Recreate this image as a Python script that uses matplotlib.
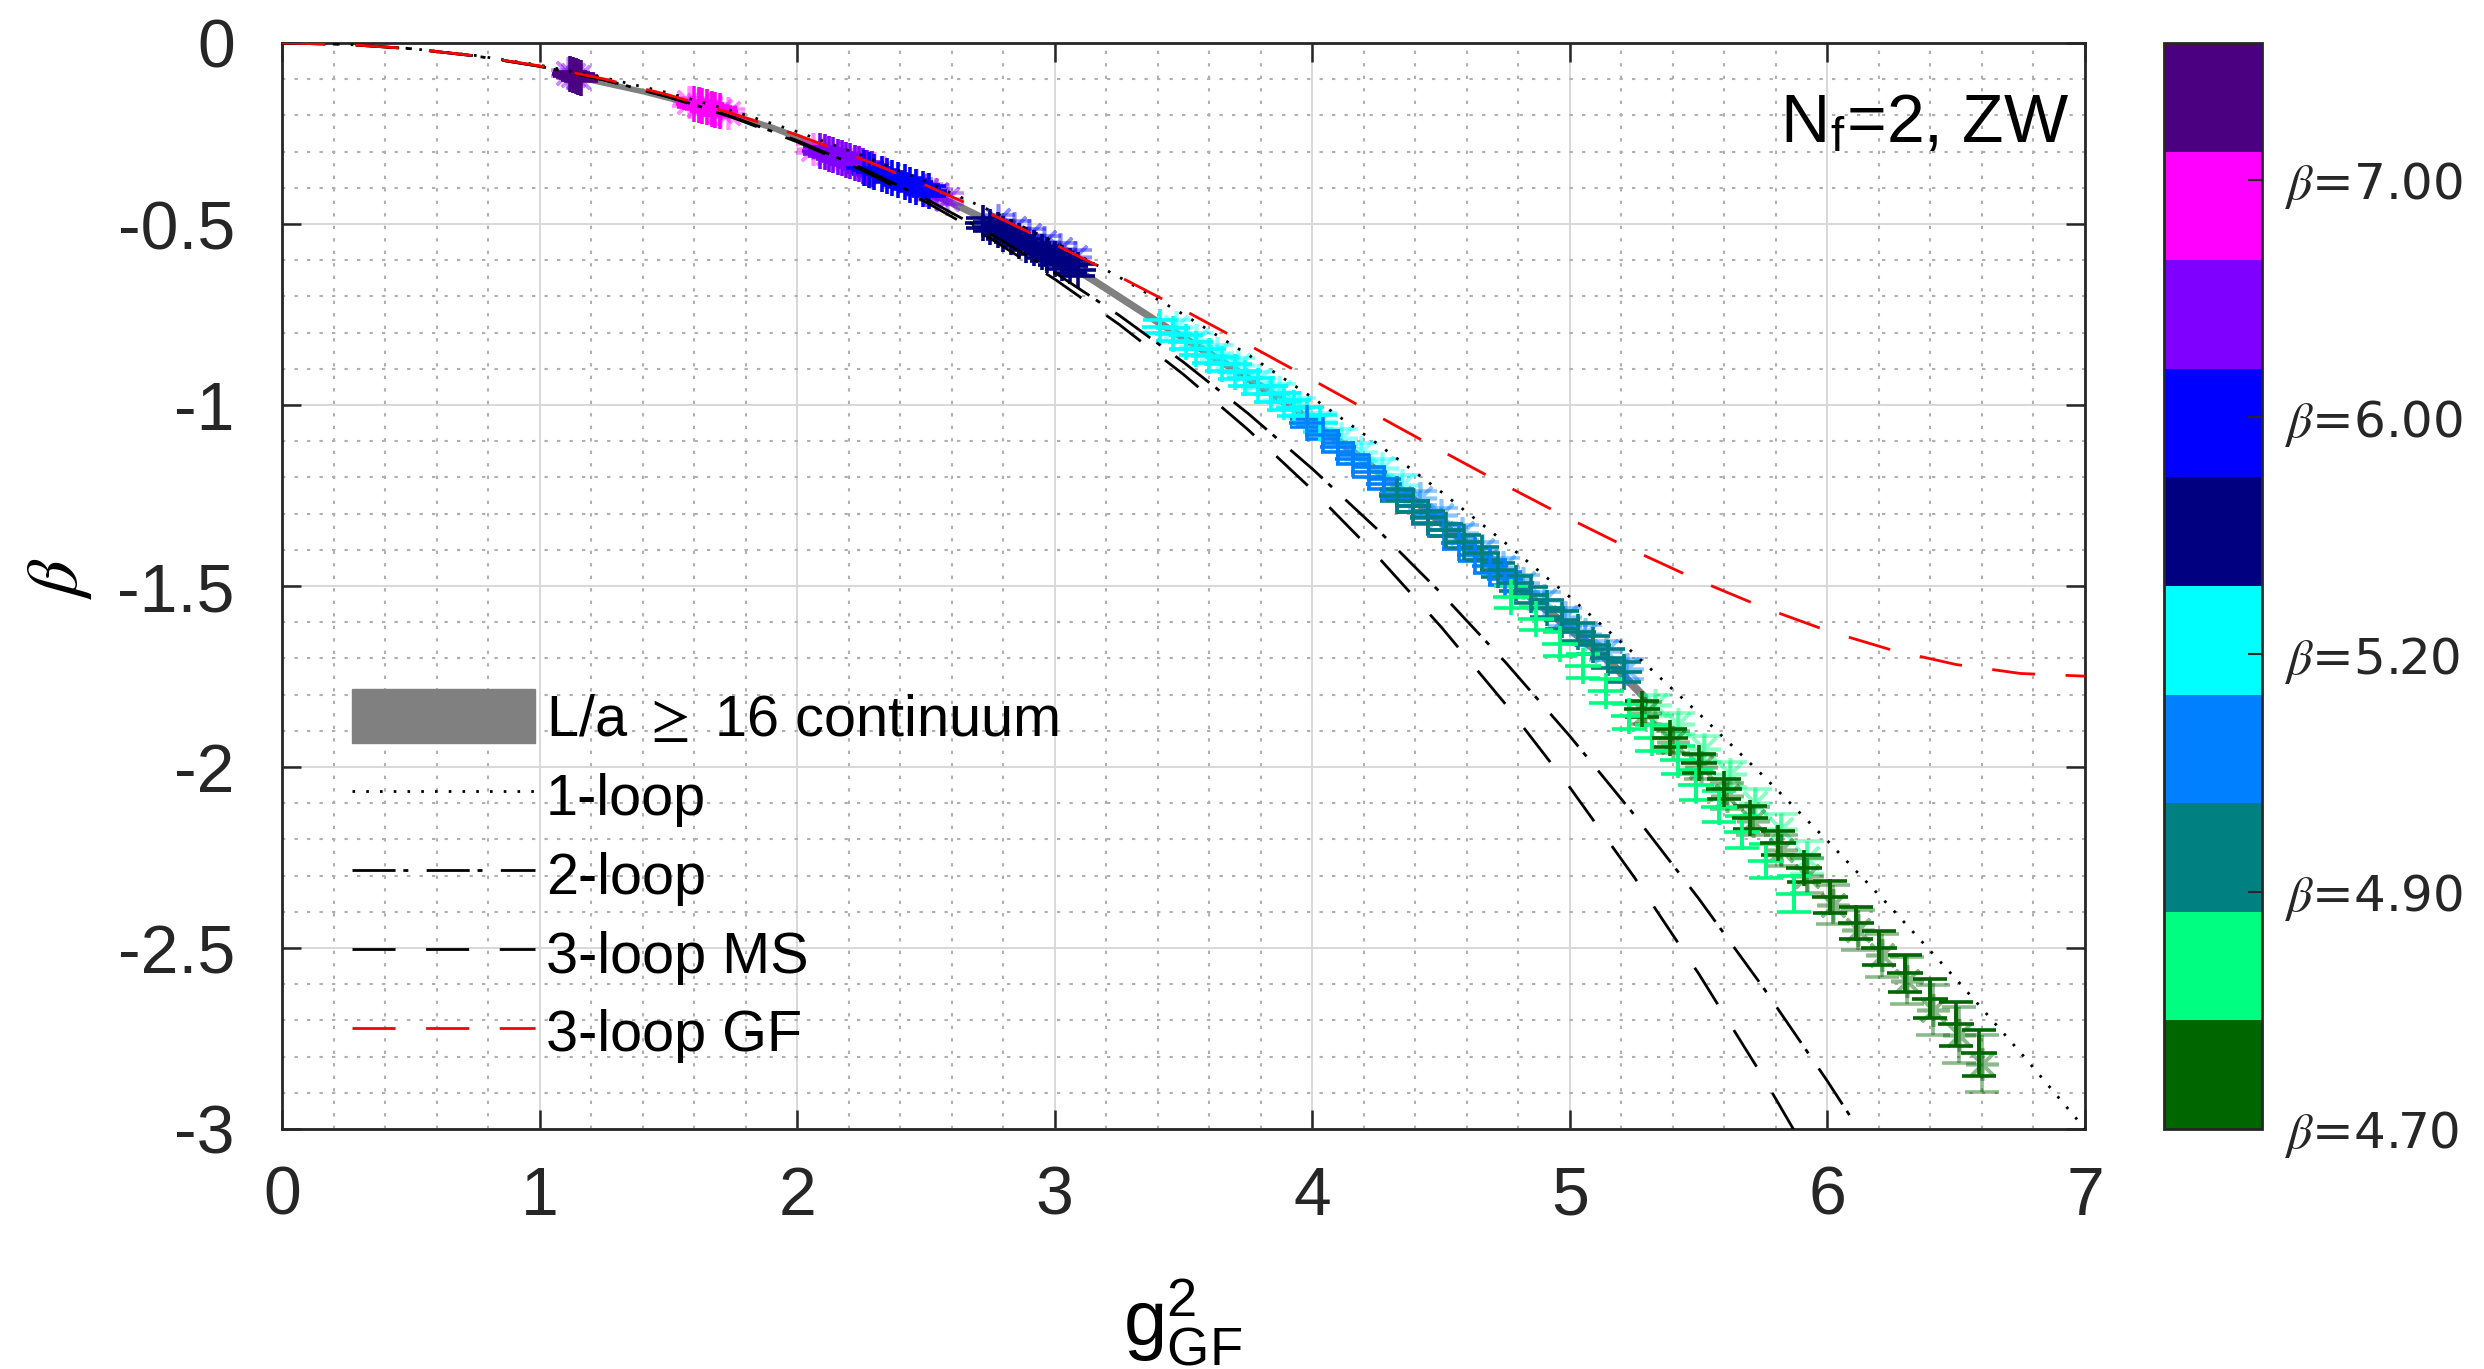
import matplotlib
matplotlib.use('Agg')
import matplotlib.pyplot as plt
from matplotlib.colors import ListedColormap, Normalize
from matplotlib.patches import Patch
from matplotlib.lines import Line2D
from matplotlib.ticker import MultipleLocator
import matplotlib.cm as cm

# ------------------------------------------------------------------ data
curve_x = [0, 0.25, 0.5, 0.75, 1, 1.25, 1.5, 1.75, 2, 2.25, 2.5, 2.75, 3, 3.25,
           3.5, 3.75, 4, 4.25, 4.5, 4.75, 5, 5.25, 5.5, 5.75, 6, 6.25, 6.5, 6.75, 7]
one_loop = [0, -0.0038, -0.0153, -0.0344, -0.0612, -0.0957, -0.1377, -0.1875, -0.2449,
            -0.3099, -0.3826, -0.4629, -0.5509, -0.6466, -0.7499, -0.8608, -0.9794,
            -1.1057, -1.2396, -1.3812, -1.5304, -1.6872, -1.8518, -2.0239, -2.2037,
            -2.3912, -2.5863, -2.7891, -2.9995]
two_loop = [0, -0.0039, -0.0157, -0.0357, -0.0643, -0.1017, -0.1481, -0.2040, -0.2695,
            -0.3449, -0.4306, -0.5269, -0.6340, -0.7521, -0.8817, -1.0230, -1.1762,
            -1.3417, -1.5198, -1.7107, -1.9147, -2.1321, -2.3633, -2.6084, -2.8678,
            -3.1418]
three_loop_ms = [0, -0.0039, -0.0157, -0.0358, -0.0645, -0.1022, -0.1493, -0.2061,
                 -0.2731, -0.3507, -0.4395, -0.5399, -0.6523, -0.7774, -0.9157, -1.0678,
                 -1.2343, -1.4157, -1.6128, -1.8262, -2.0565, -2.3045, -2.5708, -2.8564,
                 -3.1618]
three_loop_gf = [0, -0.0039, -0.0156, -0.0354, -0.0633, -0.0993, -0.1433, -0.1950,
                 -0.2541, -0.3203, -0.3931, -0.4720, -0.5562, -0.6450, -0.7376, -0.8331,
                 -0.9304, -1.0285, -1.1261, -1.2220, -1.3147, -1.4028, -1.4848, -1.5590,
                 -1.6237, -1.6770, -1.7170, -1.7417, -1.7491]

band_x = [1.15, 1.4, 1.65, 1.9, 2.15, 2.4, 2.65, 2.9, 3.15, 3.4, 3.65, 3.9, 4.15, 4.4,
          4.65, 4.9, 5.15, 5.3]
band_y = [-0.094, -0.133, -0.178, -0.232, -0.300, -0.375, -0.458, -0.545, -0.655,
          -0.770, -0.880, -0.995, -1.125, -1.265, -1.415, -1.560, -1.705, -1.815]
band_hw = [0.008, 0.008, 0.009, 0.009, 0.010, 0.010, 0.011, 0.011, 0.012, 0.012,
           0.013, 0.013, 0.014, 0.014, 0.015, 0.015, 0.016, 0.016]

# '+' series (opaque) and '*' series (light) per bare-beta colour
indigo_x = [1.12, 1.13, 1.14, 1.15, 1.16]
indigo_y = [-0.085, -0.088, -0.091, -0.094, -0.097]
indigo_err = [0.006, 0.006, 0.006, 0.007, 0.007]
indigo_star_x = [1.11, 1.13, 1.15]
indigo_star_y = [-0.083, -0.088, -0.094]
indigo_star_err = [0.008, 0.008, 0.008]

magenta_x = [1.60, 1.62, 1.63, 1.65, 1.67, 1.68, 1.70]
magenta_y = [-0.168, -0.171, -0.174, -0.178, -0.182, -0.185, -0.189]
magenta_err = [0.008, 0.008, 0.008, 0.009, 0.009, 0.009, 0.010]
magenta_star_x = [1.58, 1.62, 1.66, 1.70, 1.73]
magenta_star_y = [-0.163, -0.170, -0.179, -0.187, -0.193]
magenta_star_err = [0.010, 0.010, 0.011, 0.011, 0.012]

violet_x = [2.09, 2.107, 2.123, 2.14, 2.157, 2.173, 2.19, 2.207, 2.223, 2.24, 2.257,
            2.273, 2.29]
violet_y = [-0.298, -0.302, -0.306, -0.310, -0.315, -0.319, -0.323, -0.327, -0.331,
            -0.335, -0.340, -0.344, -0.348]
violet_err = [0.010, 0.010, 0.010, 0.010, 0.011, 0.011, 0.011, 0.011, 0.012, 0.012,
              0.012, 0.012, 0.012]
violet_star_x = [2.06, 2.12, 2.18, 2.24, 2.30]
violet_star_y = [-0.292, -0.305, -0.318, -0.332, -0.346]
violet_star_err = [0.012, 0.012, 0.013, 0.013, 0.014]

blue_x = [2.26, 2.28, 2.30, 2.33, 2.35, 2.37, 2.39, 2.42, 2.44, 2.46, 2.49, 2.51]
blue_y = [-0.345, -0.350, -0.356, -0.362, -0.367, -0.373, -0.379, -0.385, -0.391,
          -0.397, -0.404, -0.410]
blue_err = [0.011, 0.011, 0.011, 0.012, 0.012, 0.012, 0.012, 0.013, 0.013, 0.013,
            0.013, 0.014]
blue_star_x = [2.46, 2.50, 2.54, 2.58]
blue_star_y = [-0.392, -0.405, -0.418, -0.430]
blue_star_err = [0.015, 0.015, 0.016, 0.016]

navy_x = [2.72, 2.75, 2.78, 2.80, 2.83, 2.86, 2.89, 2.92, 2.95, 2.97, 3.00, 3.03,
          3.06, 3.09]
navy_y = [-0.497, -0.507, -0.517, -0.527, -0.537, -0.547, -0.557, -0.567, -0.577,
          -0.587, -0.597, -0.607, -0.617, -0.627]
navy_err = [0.013, 0.013, 0.014, 0.014, 0.014, 0.015, 0.015, 0.015, 0.016, 0.016,
            0.016, 0.017, 0.017, 0.017]
navy_star_x = [2.78, 2.84, 2.90, 2.96, 3.02, 3.08]
navy_star_y = [-0.490, -0.510, -0.530, -0.550, -0.570, -0.590]
navy_star_err = [0.016, 0.017, 0.017, 0.018, 0.018, 0.019]

cyan_x = [3.41, 3.46, 3.51, 3.55, 3.60, 3.65, 3.70, 3.74, 3.79, 3.84, 3.89, 3.93,
          3.98, 4.03]
cyan_y = [-0.784, -0.805, -0.826, -0.844, -0.865, -0.887, -0.908, -0.926, -0.948,
          -0.969, -0.991, -1.008, -1.030, -1.051]
cyan_err = [0.018, 0.018, 0.019, 0.019, 0.020, 0.020, 0.021, 0.021, 0.022, 0.022,
            0.023, 0.023, 0.024, 0.024]
cyan_star_x = [3.47, 3.55, 3.63, 3.71, 3.79, 3.87, 3.95, 4.03, 4.11, 4.19, 4.27, 4.35]
cyan_star_y = [-0.785, -0.820, -0.855, -0.890, -0.930, -0.965, -1.005, -1.045, -1.090,
               -1.130, -1.175, -1.220]
cyan_star_err = [0.020, 0.020, 0.021, 0.021, 0.022, 0.022, 0.023, 0.024, 0.024,
                 0.025, 0.026, 0.026]

azure_x = [3.98, 4.04, 4.10, 4.16, 4.22, 4.28, 4.33, 4.39, 4.45, 4.51, 4.57, 4.63,
           4.69, 4.75]
azure_y = [-1.050, -1.083, -1.117, -1.150, -1.185, -1.218, -1.246, -1.280, -1.313,
           -1.346, -1.380, -1.413, -1.446, -1.480]
azure_err = [0.012, 0.012, 0.013, 0.013, 0.014, 0.014, 0.015, 0.015, 0.016, 0.016,
             0.017, 0.017, 0.018, 0.018]
azure_star_x = [4.42, 4.50, 4.58, 4.66, 4.74, 4.82, 4.90, 4.98, 5.06, 5.14, 5.22]
azure_star_y = [-1.257, -1.305, -1.353, -1.400, -1.447, -1.493, -1.540, -1.586,
                -1.633, -1.679, -1.730]
azure_star_err = [0.020, 0.021, 0.021, 0.022, 0.023, 0.023, 0.024, 0.025, 0.026,
                  0.026, 0.027]

teal_x = [4.33, 4.39, 4.45, 4.52, 4.59, 4.66, 4.72, 4.79, 4.85, 4.91, 4.97, 5.03,
          5.09, 5.15, 5.21]
teal_y = [-1.250, -1.280, -1.310, -1.345, -1.378, -1.410, -1.456, -1.493, -1.525,
          -1.562, -1.594, -1.626, -1.663, -1.700, -1.737]
teal_err = [0.015, 0.016, 0.016, 0.017, 0.018, 0.019, 0.020, 0.021, 0.022, 0.023,
            0.024, 0.025, 0.026, 0.027, 0.028]

spgreen_x = [4.77, 4.87, 4.96, 5.05, 5.14, 5.23, 5.32, 5.42, 5.49, 5.58, 5.67, 5.76,
             5.87]
spgreen_y = [-1.53, -1.59, -1.66, -1.72, -1.79, -1.86, -1.92, -1.98, -2.05, -2.11,
             -2.18, -2.26, -2.35]
spgreen_err = [0.030, 0.031, 0.032, 0.033, 0.034, 0.035, 0.037, 0.039, 0.041, 0.043,
               0.045, 0.048, 0.050]
spgreen_star_x = [5.33, 5.42, 5.52, 5.62, 5.72, 5.82, 5.92]
spgreen_star_y = [-1.83, -1.88, -1.95, -2.02, -2.10, -2.17, -2.25]
spgreen_star_err = [0.030, 0.030, 0.035, 0.035, 0.040, 0.040, 0.045]

dkgreen_x = [5.28, 5.39, 5.50, 5.60, 5.70, 5.81, 5.91, 6.01, 6.11, 6.20, 6.30, 6.40,
             6.50, 6.59]
dkgreen_y = [-1.84, -1.92, -1.99, -2.06, -2.14, -2.21, -2.28, -2.36, -2.43, -2.50,
             -2.57, -2.64, -2.71, -2.79]
dkgreen_err = [0.023, 0.024, 0.026, 0.028, 0.031, 0.034, 0.038, 0.044, 0.044, 0.047,
               0.052, 0.054, 0.061, 0.063]
dkgreen_star_x = [5.29, 5.40, 5.51, 5.61, 5.71, 5.82, 5.92, 6.02, 6.12, 6.21, 6.31,
                  6.41, 6.51, 6.60]
dkgreen_star_y = [-1.85, -1.93, -2.00, -2.08, -2.15, -2.23, -2.30, -2.38, -2.45,
                  -2.52, -2.59, -2.67, -2.74, -2.82]
dkgreen_star_err = [0.030, 0.030, 0.033, 0.035, 0.039, 0.043, 0.048, 0.055, 0.056,
                    0.060, 0.066, 0.069, 0.077, 0.079]

cbar_colors = ['#006600', '#00FF80', '#008080', '#0080FF', '#00FFFF', '#000080',
               '#0000FF', '#8000FF', '#FF00FF', '#4B0082']
cbar_tick_pos = [0, 2.185, 4.37, 6.555, 8.74]
cbar_tick_labels = [r'$\beta$=4.70', r'$\beta$=4.90', r'$\beta$=5.20',
                    r'$\beta$=6.00', r'$\beta$=7.00']

legend_labels = [r'L/a $\geq$ 16 continuum', '1-loop', '2-loop', '3-loop MS',
                 '3-loop GF']

# ------------------------------------------------------------------ style
plt.rcParams['font.family'] = ['Liberation Sans', 'DejaVu Sans']
plt.rcParams['mathtext.fontset'] = 'stix'

W, H = 2484, 1369
fig = plt.figure(figsize=(W / 100, H / 100), dpi=100)
L, R, T, B = 282, 2085, 43, 1129
ax = fig.add_axes([L / W, 1 - B / H, (R - L) / W, (B - T) / H])

# grid
ax.set_axisbelow(True)
ax.xaxis.set_minor_locator(MultipleLocator(0.2))
ax.yaxis.set_minor_locator(MultipleLocator(0.1))
ax.grid(which='major', color='#d8d8d8', lw=1.4, ls='-')
ax.grid(which='minor', color='#b0b0b0', lw=1.5, ls=(0, (1.6, 4.4)))

# continuum band
ax.fill_between(band_x, [y - h for y, h in zip(band_y, band_hw)],
                [y + h for y, h in zip(band_y, band_hw)],
                color='#808080', lw=0, zorder=2)

MS = 26
CAP = 12.5
LW = 2.6


def light(x, y, e, c):
    ax.errorbar(x, y, yerr=e, fmt='none', ecolor=c, elinewidth=LW, capsize=CAP,
                capthick=LW, alpha=0.45, zorder=3)
    ax.plot(x, y, ls='none', marker=(8, 2, 0), ms=MS * 0.9, mew=LW, color=c,
            alpha=0.45, zorder=3)


def heavy(x, y, e, c):
    ax.errorbar(x, y, yerr=e, fmt='+', ms=MS, mew=LW, color=c, ecolor=c,
                elinewidth=LW, capsize=CAP, capthick=LW, zorder=4)


light(indigo_star_x, indigo_star_y, indigo_star_err, '#8000FF')
light(magenta_star_x, magenta_star_y, magenta_star_err, '#FF00FF')
light(violet_star_x, violet_star_y, violet_star_err, '#FF00FF')
light(blue_star_x, blue_star_y, blue_star_err, '#8000FF')
light(navy_star_x, navy_star_y, navy_star_err, '#0000FF')
light(cyan_star_x, cyan_star_y, cyan_star_err, '#00FFFF')
light(azure_star_x, azure_star_y, azure_star_err, '#0080FF')
light(spgreen_star_x, spgreen_star_y, spgreen_star_err, '#00FF80')
light(dkgreen_star_x, dkgreen_star_y, dkgreen_star_err, '#006600')

heavy(indigo_x, indigo_y, indigo_err, '#4B0082')
heavy(magenta_x, magenta_y, magenta_err, '#FF00FF')
heavy(violet_x, violet_y, violet_err, '#8000FF')
heavy(blue_x, blue_y, blue_err, '#0000FF')
heavy(navy_x, navy_y, navy_err, '#000080')
heavy(cyan_x, cyan_y, cyan_err, '#00FFFF')
heavy(azure_x, azure_y, azure_err, '#0080FF')
heavy(teal_x, teal_y, teal_err, '#008080')
heavy(spgreen_x, spgreen_y, spgreen_err, '#00FF80')
heavy(dkgreen_x, dkgreen_y, dkgreen_err, '#006600')

# perturbative curves
st1 = dict(color='k', lw=2.0, dashes=(0.95, 4.0))
st2 = dict(color='k', lw=2.0, dashes=(15.5, 2.8, 1.8, 6.6))
st3 = dict(color='k', lw=2.0, dashes=(15.5, 11.0))
st4 = dict(color='#FF0000', lw=2.0, dashes=(15.5, 11.0))
ax.plot(curve_x, one_loop, zorder=5, **st1)
ax.plot(curve_x[:len(two_loop)], two_loop, zorder=5, **st2)
ax.plot(curve_x[:len(three_loop_ms)], three_loop_ms, zorder=5, **st3)
ax.plot(curve_x, three_loop_gf, zorder=5, **st4)

ax.set_xlim(0, 7)
ax.set_ylim(-3, 0)
ax.set_xticks(range(0, 8))
ax.set_yticks([-3, -2.5, -2, -1.5, -1, -0.5, 0])
ax.set_yticklabels(['-3', '-2.5', '-2', '-1.5', '-1', '-0.5', '0'])
fs_tick = 49
em_t = fs_tick * 100 / 72
ax.tick_params(which='major', direction='in', length=14, width=1.8, top=True,
               right=True, labelsize=fs_tick, colors='#262626')
ax.tick_params(axis='x', pad=(75 - 0.575 * em_t) * 0.72)
ax.tick_params(axis='y', pad=34)
ax.tick_params(which='minor', length=0)
for s in ax.spines.values():
    s.set_linewidth(2.0)
    s.set_color('#262626')

# legend
fs_leg = 41.5
em_l = fs_leg * 100 / 72
handles = [Patch(facecolor='#808080', edgecolor='#808080'),
           Line2D([], [], **st1), Line2D([], [], **st2), Line2D([], [], **st3),
           Line2D([], [], **st4)]
row_h = max(1.117 * em_l, 62)
top_px = 721 - row_h / 2
leg = ax.legend(handles, legend_labels, loc='upper left',
                bbox_to_anchor=((352 - L) / (R - L), 1 - (top_px - T) / (B - T)),
                frameon=False, borderpad=0, borderaxespad=0, fontsize=fs_leg,
                handlelength=183 / em_l, handletextpad=11 / em_l,
                handleheight=62 / em_l,
                labelspacing=max(0.0, (79 - 1.117 * em_l) / em_l) + 5.5 / em_l)
leg.set_zorder(6)

ax.text(6.94, -0.225, r'N$_\mathregular{f}$=2, ZW', ha='right', va='center',
        fontsize=49, zorder=7)

fig.text(1183 / W, 1 - 1322 / H, r'$\mathregular{g^2_{GF}}$', ha='center',
         va='center', fontsize=56)
fig.text(60 / W, 1 - 578 / H, r'$\beta$', rotation=90, ha='center', va='center',
         fontsize=52)

# colorbar
cax = fig.add_axes([2164 / W, 1 - B / H, 98 / W, (B - T) / H])
sm = cm.ScalarMappable(norm=Normalize(0, 10), cmap=ListedColormap(cbar_colors))
cb = fig.colorbar(sm, cax=cax)
cb.set_ticks(cbar_tick_pos)
cb.set_ticklabels(cbar_tick_labels)
cb.outline.set_linewidth(2.0)
cb.outline.set_edgecolor('#262626')
cax.tick_params(direction='in', length=10, width=1.5, colors='#262626', pad=16)
for t in cax.get_yticklabels():
    t.set_fontfamily(['DejaVu Sans'])
    t.set_fontsize(36)

fig.savefig('out.png', dpi=100)
